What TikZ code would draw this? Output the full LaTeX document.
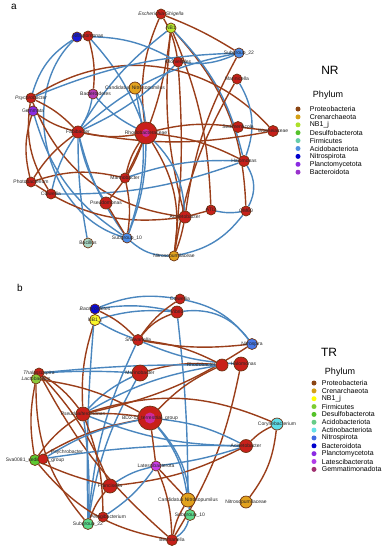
\documentclass[tikz,border=0pt]{standalone}
\usepackage{fontspec}
\setmainfont{Liberation Sans}
\usepackage{tikz}
\usetikzlibrary{positioning, backgrounds}
\definecolor{cProt}{HTML}{C8201A}
\definecolor{cRim}{HTML}{6E3412}
\definecolor{cCren}{HTML}{E2A21E}
\definecolor{cNBa}{HTML}{B8E830}
\definecolor{cNBb}{HTML}{F8F52A}
\definecolor{cDesu}{HTML}{5CC832}
\definecolor{cFirmA}{HTML}{A8D8C4}
\definecolor{cFirmB}{HTML}{8CC83A}
\definecolor{cAcidA}{HTML}{4A8CE8}
\definecolor{cAcidB}{HTML}{5BD98A}
\definecolor{cActi}{HTML}{5EDDE8}
\definecolor{cNitrA}{HTML}{1A1AD8}
\definecolor{cNitrB}{HTML}{4778E8}
\definecolor{cBactA}{HTML}{B43CB4}
\definecolor{cBactB}{HTML}{0A0AD8}
\definecolor{cPlan}{HTML}{8A2BE2}
\definecolor{cLate}{HTML}{C83CE8}
\definecolor{cGemm}{HTML}{D02A9A}
\definecolor{cPos}{HTML}{9A3E1A}
\definecolor{cNeg}{HTML}{4A86BE}
% legend colours
\definecolor{kProt}{HTML}{8B4513}
\definecolor{kCren}{HTML}{D4A017}
\definecolor{kNBa}{HTML}{ADE02A}
\definecolor{kNBb}{HTML}{FFFF00}
\definecolor{kDesu}{HTML}{55C22A}
\definecolor{kFirmA}{HTML}{66CDAA}
\definecolor{kFirmB}{HTML}{7CCD32}
\definecolor{kAcidA}{HTML}{5090E0}
\definecolor{kAcidB}{HTML}{66CC88}
\definecolor{kActi}{HTML}{66E0E8}
\definecolor{kNitrA}{HTML}{0000CD}
\definecolor{kNitrB}{HTML}{4169E1}
\definecolor{kPlan}{HTML}{8A2BE2}
\definecolor{kBactA}{HTML}{9932CC}
\definecolor{kLate}{HTML}{B23CE8}
\definecolor{kGemm}{HTML}{A03070}
\tikzset{
  taxon/.style={circle, draw=cRim, line width=0.7pt, fill=#1, minimum size=10pt, inner sep=0pt},
  core/.style={circle, fill=#1, minimum size=8pt, inner sep=0pt},
  tag/.style={font=\fontsize{5}{5}\selectfont, inner sep=0pt, text=black!85},
  itag/.style={font=\fontsize{5}{5}\selectfont\itshape, inner sep=0pt, text=black!85},
  poslink/.style={draw=cPos, line width=1.4pt},
  neglink/.style={draw=cNeg, line width=1.4pt},
  key/.style={circle, fill=#1, minimum size=5pt, inner sep=0pt},
  keytext/.style={font=\fontsize{7}{7}\selectfont, inner sep=0pt},
  title/.style={font=\fontsize{12}{12}\selectfont},
  head/.style={font=\fontsize{9}{9}\selectfont},
}

\begin{document}
\begin{tikzpicture}[x=1pt, y=-1pt]
\useasboundingbox (0,0) rectangle (391,550);
\node[font=\fontsize{10}{10}\selectfont] (panA) at (14,7) {a};
\node[font=\fontsize{10}{10}\selectfont] (panB) at (20,288) {b};
% network a (NR)
\node[taxon=cProt, label={[itag]center:Escherichia-Shigella}] (aEsch) at (161,14) {};
\node[taxon=cNBa, label={[tag]center:NB1}] (aNB1) at (171,28) {};
\node[taxon=cNitrA] (aNitro) at (77,37) {};
\node[taxon=cProt, label={[tag]center:Nitrosomonas}] (aNitroR) at (88,36) {};
\node[taxon=cAcidA, label={[tag]center:Subgroup\_22}] (aSub22) at (239,53) {};
\node[taxon=cProt, label={[tag]center:Kiloniellales}] (aKilo) at (178,62) {};
\node[taxon=cProt, label={[tag]center:Marinicella}] (aMari) at (237,79) {};
\node[taxon=cBactA, label={[tag]center:\quad Bacteroidetes}] (aBact) at (93,94) {};
\node[taxon=cCren, minimum size=12pt, label={[tag]center:Candidatus Nitrosopumilus}] (aNpum) at (135,88) {};
\node[taxon=cProt, label={[itag]center:Psychrobacter}] (aPsyc) at (31,98) {};
\node[taxon=cPlan, label={[tag]center:Gemmata}] (aGemm) at (33,111) {};
\node[taxon=cProt, minimum size=12pt, label={[tag]center:Fabibacter}] (aFabi) at (78,132) {};
\node[taxon=cProt, minimum size=22pt] (aBig) at (146,133) {};
\node[core=cGemm, label={[tag]center:Rhodobacteraceae}] (aBigCore) at (aBig) {};
\node[taxon=cProt, minimum size=11pt, label={[tag]center:Sedimenticola}] (aSedi) at (238,127) {};
\node[taxon=cProt, minimum size=11pt, label={[tag]center:Woeseiaceae}] (aWoes) at (273,131) {};
\node[taxon=cProt, minimum size=11pt, label={[tag]center:Halomonas}] (aHalo) at (244,161) {};
\node[taxon=cProt, label={[tag]center:Photobacterium}] (aPhot) at (31,182) {};
\node[taxon=cProt, label={[tag]center:Colwellia}] (aColw) at (51,194) {};
\node[taxon=cProt, label={[tag]center:Marinobacter}] (aMarb) at (125,178) {};
\node[taxon=cProt, minimum size=12pt, label={[tag]center:Pseudomonas}] (aPseu) at (106,203) {};
\node[taxon=cProt, minimum size=12pt, label={[tag]center:Acinetobacter}] (aAcin) at (185,217) {};
\node[taxon=cProt, label={[tag]center:ATI2}] (aATI) at (211,210) {};
\node[taxon=cProt, label={[tag]center:OM60}] (aOM) at (246,211) {};
\node[taxon=cAcidA, label={[tag]center:Subgroup\_10}] (aSub10) at (127,238) {};
\node[taxon=cFirmA, label={[tag]center:Bacillus}] (aFirm) at (88,243) {};
\node[taxon=cCren, label={[tag]center:Nitrosopumilaceae}] (aNsum) at (174,256) {};
\begin{scope}[on background layer]
\draw[poslink] (aEsch) to[bend right=15] (aBig);
\draw[poslink] (aEsch) to[bend left=10] (aKilo);
\draw[neglink] (aNB1) to[bend right=10] (aFabi);
\draw[poslink] (aNB1) to[bend left=10] (aATI);
\draw[poslink] (aNB1) to[bend right=10] (aAcin);
\draw[poslink] (aNB1) to[bend left=20] (aOM);
\draw[neglink] (aNB1) to[bend left=15] (aHalo);
\draw[poslink] (aNB1) to[bend left=10] (aMarb);
\draw[poslink] (aNitroR) to[bend left=10] (aBact);
\draw[neglink] (aNitro) to[bend right=20] (aPsyc);
\draw[neglink] (aNitro) to[bend left=15] (aKilo);
\draw[neglink] (aNitro) to[bend right=60] (aSub10);
\draw[neglink] (aNitroR) to[bend left=10] (aBig);
\draw[poslink] (aPsyc) to[bend left=40] (aWoes);
\draw[poslink] (aPsyc) to[bend left=10] (aFabi);
\draw[poslink] (aPsyc) to[bend right=30] (aAcin);
\draw[neglink] (aPsyc) to[bend left=10] (aSub22);
\draw[poslink] (aGemm) to[bend right=10] (aFabi);
\draw[poslink] (aGemm) to[bend right=15] (aPhot);
\draw[neglink] (aGemm) to[bend right=20] (aSub10);
\draw[poslink] (aSub22) to[bend right=10] (aAcin);
\draw[neglink] (aSub22) to[bend right=15] (aFabi);
\draw[poslink] (aSub22) to[bend right=5] (aEsch);
\draw[neglink] (aMari) to[bend left=25] (aHalo);
\draw[poslink] (aMari) to[bend right=10] (aNsum);
\draw[poslink] (aKilo) to[bend left=5] (aNsum);
\draw[neglink] (aKilo) to[bend right=15] (aSub22);
\draw[neglink] (aKilo) to[bend left=10] (aFabi);
\draw[poslink] (aSedi) to (aWoes);
\draw[poslink] (aSedi) to[bend right=10] (aBig);
\draw[poslink] (aWoes) to[bend left=10] (aFabi);
\draw[neglink] (aHalo) to[bend left=30] (aOM);
\draw[poslink] (aHalo) to[bend right=10] (aBig);
\draw[neglink] (aHalo) to[bend left=10] (aColw);
\draw[neglink] (aOM) to[bend left=10] (aATI);
\draw[neglink] (aOM) to[bend left=20] (aNsum);
\draw[poslink] (aATI) to (aAcin);
\draw[poslink] (aAcin) to[bend left=5] (aNsum);
\draw[poslink] (aAcin) to[bend left=20] (aPhot);
\draw[neglink] (aAcin) to[bend right=20] (aBig);
\draw[neglink] (aSub10) to[bend right=10] (aBig);
\draw[neglink] (aSub10) to[bend left=10] (aFabi);
\draw[poslink] (aSub10) to (aPseu);
\draw[poslink] (aSub10) to[bend right=10] (aMarb);
\draw[neglink] (aSub10) to[bend right=20] (aNsum);
\draw[neglink] (aFirm) to[bend left=5] (aFabi);
\draw[poslink] (aPhot) to[bend left=10] (aFabi);
\draw[poslink] (aPhot) to[bend left=15] (aMarb);
\draw[neglink] (aColw) to[bend left=10] (aFabi);
\draw[poslink] (aColw) to[bend left=20] (aPsyc);
\draw[poslink] (aPseu) to[bend right=10] (aBig);
\draw[neglink] (aPseu) to[bend left=10] (aFabi);
\draw[poslink] (aMarb) to[bend left=10] (aBig);
\draw[neglink] (aMarb) to[bend left=10] (aHalo);
\draw[neglink] (aNpum) to[bend left=10] (aBig);
\draw[neglink] (aNpum) to[bend left=15] (aSub10);
\draw[neglink] (aBact) to[bend right=10] (aBig);
\draw[neglink] (aBact) to[bend left=10] (aFabi);
\draw[poslink] (aFabi) to[bend right=10] (aBig);
\draw[poslink] (aBig) to[bend left=20] (aNsum);
\end{scope}
% legend a
\node[title] (ttlNR) at (330,70) {NR};
\node[head] (hdA) at (328,95) {Phylum};
\node[key=kProt] (kaProt) at (298,109) {};
\node[key=kCren, below=2.5pt of kaProt] (kaCren) {};
\node[key=kNBa, below=2.5pt of kaCren] (kaNB) {};
\node[key=kDesu, below=2.5pt of kaNB] (kaDesu) {};
\node[key=kFirmA, below=2.5pt of kaDesu] (kaFirm) {};
\node[key=kAcidA, below=2.5pt of kaFirm] (kaAcid) {};
\node[key=kNitrA, below=2.5pt of kaAcid] (kaNitr) {};
\node[key=kPlan, below=2.5pt of kaNitr] (kaPlan) {};
\node[key=kBactA, below=2.5pt of kaPlan] (kaBact) {};
\node[keytext, right=9pt of kaProt] (kaProtT) {Proteobacteria};
\node[keytext, right=9pt of kaCren] (kaCrenT) {Crenarchaeota};
\node[keytext, right=9pt of kaNB] (kaNBT) {NB1\_j};
\node[keytext, right=9pt of kaDesu] (kaDesuT) {Desulfobacterota};
\node[keytext, right=9pt of kaFirm] (kaFirmT) {Firmicutes};
\node[keytext, right=9pt of kaAcid] (kaAcidT) {Acidobacteriota};
\node[keytext, right=9pt of kaNitr] (kaNitrT) {Nitrospirota};
\node[keytext, right=9pt of kaPlan] (kaPlanT) {Planctomycetota};
\node[keytext, right=9pt of kaBact] (kaBactT) {Bacteroidota};
% network b (TR)
\node[taxon=cBactB, label={[itag]center:Bacteroidetes}] (bBact) at (95,309) {};
\node[taxon=cNBb, minimum size=11pt, label={[tag]center:NB1\_j}] (bNB1) at (95,320) {};
\node[taxon=cProt, label={[tag]center:Colwellia}] (bColw) at (180,299) {};
\node[taxon=cProt, minimum size=12pt, label={[tag]center:Vibrio}] (bVibr) at (177,312) {};
\node[taxon=cProt, minimum size=11pt, label={[itag]center:Shewanella}] (bShew) at (138,340) {};
\node[taxon=cNitrB, minimum size=11pt, label={[tag]center:Nitrospira}] (bNitr) at (252,344) {};
\node[taxon=cProt, minimum size=16pt, label={[tag]center:Marinobacter}] (bMid) at (140,373) {};
\node[taxon=cProt, label={[itag]center:Thalassospira}] (bThal) at (39,373) {};
\node[taxon=cFirmB, label={[itag]center:Lactobacillus}] (bLact) at (36,379) {};
\node[taxon=cProt, minimum size=12pt, label={[tag]left:Rhodobacter}] (bRhod) at (222,365) {};
\node[taxon=cProt, minimum size=14pt, label={[tag]center:\quad Halomonas}] (bHalo) at (241,364) {};
\node[taxon=cProt, minimum size=14pt, label={[itag]center:Pseudoalteromonas}] (bPseu) at (83,414) {};
\node[taxon=cProt, minimum size=24pt] (bBD) at (150,418) {};
\node[core=cGemm, minimum size=11pt, label={[tag]center:BD2-11\_terrestrial\_group}] (bBDCore) at (bBD) {};
\node[taxon=cActi, minimum size=12pt, label={[tag]center:Corynebacterium}] (bCory) at (277,424) {};
\node[taxon=cProt, minimum size=13pt, label={[tag]center:Acinetobacter}] (bAcin) at (246,446) {};
\node[taxon=cDesu, minimum size=11pt, label={[tag]center:Sva0081\_sediment\_group}] (bSva) at (35,460) {};
\node[taxon=cProt, label={[tag, xshift=4pt]north east:Psychrobacter}] (bPsRed) at (43,459) {};
\node[taxon=cLate, label={[tag]center:Latescibacterota}] (bLate) at (156,466) {};
\node[taxon=cProt, minimum size=14pt, label={[tag]center:Francisella}] (bFran) at (110,486) {};
\node[taxon=cCren, minimum size=14pt, label={[tag]center:Candidatus Nitrosopumilus}] (bNpum) at (188,500) {};
\node[taxon=cAcidB, minimum size=11pt, label={[tag]center:Subgroup\_10}] (bSub10) at (190,515) {};
\node[taxon=cCren, minimum size=12pt, label={[tag]center:Nitrosopumilaceae}] (bNsum) at (246,502) {};
\node[taxon=cAcidB, minimum size=11pt, label={[tag]center:Subgroup\_22}] (bSub22) at (88,524) {};
\node[taxon=cProt, label={[tag]center:\qquad Pelagibacterium}] (bDesu) at (103,517) {};
\node[taxon=cProt, minimum size=11pt, label={[tag]center:Bermanella}] (bBott) at (172,540) {};
\begin{scope}[on background layer]
\draw[neglink] (bBact) to[bend left=15] (bColw);
\draw[neglink] (bBact) to[bend left=10] (bVibr);
\draw[neglink] (bNB1) to[bend left=10] (bVibr);
\draw[poslink] (bBact) to[bend left=10] (bShew);
\draw[neglink] (bNB1) to[bend right=5] (bShew);
\draw[poslink] (bNB1) to[bend right=10] (bPseu);
\draw[neglink] (bBact) to[bend right=3] (bSub22);
\draw[poslink] (bColw) to[bend right=10] (bShew);
\draw[poslink] (bVibr) to[bend right=15] (bShew);
\draw[neglink] (bVibr) to[bend left=30] (bNitr);
\draw[neglink] (bColw) to[bend left=20] (bNitr);
\draw[neglink] (bVibr) to[bend left=3] (bNpum);
\draw[neglink] (bShew) to[bend right=10] (bHalo);
\draw[poslink] (bShew) to[bend left=10] (bRhod);
\draw[neglink] (bShew) to[bend right=10] (bSub22);
\draw[neglink] (bMid) to[bend right=3] (bThal);
\draw[poslink] (bMid) to[bend left=10] (bRhod);
\draw[neglink] (bMid) to[bend right=10] (bSub22);
\draw[neglink] (bMid) to[bend right=10] (bPseu);
\draw[poslink] (bNitr) to[bend left=8] (bShew);
\draw[poslink] (bNitr) to[bend left=10] (bPseu);
\draw[neglink] (bThal) to[bend left=3] (bRhod);
\draw[poslink] (bThal) to[bend left=10] (bPseu);
\draw[poslink] (bThal) to[bend left=10] (bFran);
\draw[poslink] (bThal) to[bend right=10] (bBott);
\draw[poslink] (bLact) to[bend right=10] (bSva);
\draw[poslink] (bLact) to[bend left=10] (bBD);
\draw[poslink] (bLact) to[bend right=20] (bSub22);
\draw[poslink] (bRhod) to[bend right=10] (bBD);
\draw[neglink] (bRhod) to[bend right=10] (bPseu);
\draw[poslink] (bHalo) to[bend left=10] (bBott);
\draw[poslink] (bCory) to[bend right=10] (bAcin);
\draw[poslink] (bCory) to[bend left=15] (bNsum);
\draw[poslink] (bCory) to[bend right=20] (bPseu);
\draw[neglink] (bAcin) to[bend right=10] (bBD);
\draw[neglink] (bAcin) to[bend left=10] (bPseu);
\draw[neglink] (bAcin) to[bend left=5] (bLate);
\draw[neglink] (bAcin) to[bend right=5] (bSva);
\draw[poslink] (bAcin) to[bend left=10] (bFran);
\draw[poslink] (bBD) to[bend right=5] (bPseu);
\draw[poslink] (bBD) to (bLate);
\draw[neglink] (bBD) to[bend left=15] (bNpum);
\draw[neglink] (bBD) to[bend left=20] (bSub10);
\draw[poslink] (bBD) to[bend right=10] (bSva);
\draw[neglink] (bPseu) to[bend left=5] (bSub22);
\draw[poslink] (bPseu) to[bend left=10] (bDesu);
\draw[poslink] (bPseu) to[bend right=10] (bSva);
\draw[poslink] (bSva) to[bend right=5] (bFran);
\draw[poslink] (bSva) to[bend right=20] (bBott);
\draw[neglink] (bPsRed) to[bend left=10] (bBD);
\draw[poslink] (bLate) to (bNpum);
\draw[poslink] (bLate) to[bend left=10] (bBott);
\draw[poslink] (bFran) to[bend right=10] (bSub22);
\draw[neglink] (bFran) to[bend left=10] (bLate);
\draw[neglink] (bNpum) to (bSub10);
\draw[neglink] (bSub10) to[bend left=20] (bBott);
\draw[poslink] (bNpum) to[bend right=10] (bBott);
\draw[neglink] (bDesu) to[bend right=10] (bLate);
\end{scope}
% legend b
\node[title] (ttlTR) at (329,352) {TR};
\node[head] (hdB) at (340,372) {Phylum};
\node[key=kProt] (kbProt) at (314,383) {};
\node[key=kCren, below=2.45pt of kbProt] (kbCren) {};
\node[key=kNBb, below=2.45pt of kbCren] (kbNB) {};
\node[key=kFirmB, below=2.45pt of kbNB] (kbFirm) {};
\node[key=kDesu, below=2.45pt of kbFirm] (kbDesu) {};
\node[key=kAcidB, below=2.45pt of kbDesu] (kbAcid) {};
\node[key=kActi, below=2.45pt of kbAcid] (kbActi) {};
\node[key=kNitrB, below=2.45pt of kbActi] (kbNitr) {};
\node[key=kNitrA, below=2.45pt of kbNitr] (kbBact) {};
\node[key=kPlan, below=2.45pt of kbBact] (kbPlan) {};
\node[key=kLate, below=2.45pt of kbPlan] (kbLate) {};
\node[key=kGemm, below=2.45pt of kbLate] (kbGemm) {};
\node[keytext, right=5pt of kbProt] (kbProtT) {Proteobacteria};
\node[keytext, right=5pt of kbCren] (kbCrenT) {Crenarchaeota};
\node[keytext, right=5pt of kbNB] (kbNBT) {NB1\_j};
\node[keytext, right=5pt of kbFirm] (kbFirmT) {Firmicutes};
\node[keytext, right=5pt of kbDesu] (kbDesuT) {Desulfobacterota};
\node[keytext, right=5pt of kbAcid] (kbAcidT) {Acidobacteriota};
\node[keytext, right=5pt of kbActi] (kbActiT) {Actinobacteriota};
\node[keytext, right=5pt of kbNitr] (kbNitrT) {Nitrospirota};
\node[keytext, right=5pt of kbBact] (kbBactT) {Bacteroidota};
\node[keytext, right=5pt of kbPlan] (kbPlanT) {Planctomycetota};
\node[keytext, right=5pt of kbLate] (kbLateT) {Latescibacterota};
\node[keytext, right=5pt of kbGemm] (kbGemmT) {Gemmatimonadota};
\end{tikzpicture}
\end{document}
